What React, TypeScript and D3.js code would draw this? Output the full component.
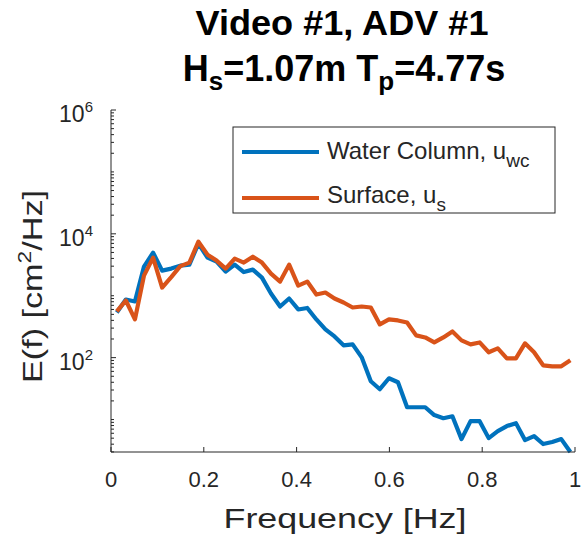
import React from "react";
import * as d3 from "d3";

const freq = [0.0125,0.032,0.0516,0.0711,0.0907,0.1102,0.1298,0.1493,0.1689,0.1884,0.208,0.2275,0.2471,0.2666,0.2862,0.3057,0.3253,0.3448,0.3644,0.3839,0.4035,0.423,0.4426,0.4621,0.4817,0.5012,0.5208,0.5403,0.5599,0.5794,0.599,0.6185,0.6381,0.6576,0.6772,0.6967,0.7163,0.7358,0.7554,0.7749,0.7945,0.814,0.8336,0.8531,0.8727,0.8922,0.9118,0.9313,0.9509,0.9704,0.99];

const waterColumn = [536,869,807,2951,4966,2545,2742,3063,3179,6930,4121,3555,2453,3179,2409,2642,1963,1085,670,901,600,634,414,286,220,158,164,101,41.5,30.9,46.4,40.0,15.8,15.8,15.8,11.8,10.5,11.3,4.83,9.42,9.42,5.01,6.5,7.83,8.75,4.66,5.41,4.02,4.33,4.83,2.99];

const surface = [557,837,414,2115,4121,1356,2000,3006,3427,7464,4605,3690,2742,3972,3427,4276,3427,2276,1694,3179,1459,1694,1045,1127,901,777,646,670,646,344,414,399,370,229,212,176,212,265,190,164,176,122,141,97.5,97.5,170,122,75.2,72.4,72.4,90.5];

const xTicks = [0, 0.2, 0.4, 0.6, 0.8, 1];
const xTickLabels = ["0", "0.2", "0.4", "0.6", "0.8", "1"];
const yTickExps = [2, 4, 6];

const seriesNames = ["Water Column, u", "Surface, u"];
const seriesSubs = ["wc", "s"];
const colors = ["#0072BD", "#D95319"];

const FONT = "'Liberation Sans', Arial, Helvetica, sans-serif";
const AX = "#262626";

export default function App() {
  const left = 111, right = 575, top = 110, bottom = 452;
  const yMin = d3.min(waterColumn) as number;
  const x = d3.scaleLinear().domain([0, 1]).range([left, right]);
  const y = d3.scaleLog().domain([yMin, 1e6]).range([bottom, top]);

  const data = [waterColumn, surface];
  const line = (vals: number[]) =>
    d3.line<number>().x((_, i) => x(freq[i])).y((d) => y(d))(vals) as string;

  const minor: number[] = [];
  for (let e = 0; e < 6; e++) {
    for (let m = 1; m <= 9; m++) {
      const v = m * Math.pow(10, e);
      if (v >= yMin && v <= 1e6 && !(m === 1 && e % 2 === 0)) minor.push(v);
    }
  }

  return (
    <svg width={582} height={541} style={{ position: "absolute", left: 0, top: 0, background: "#fff" }} fontFamily={FONT}>
      <rect x={0} y={0} width={582} height={541} fill="#fff" />
      {/* Title */}
      <text x={342} y={35} textAnchor="middle" fontSize={35} fontWeight="bold" fill="#000" textLength={293} lengthAdjust="spacingAndGlyphs">Video #1, ADV #1</text>
      <text x={344} y={81} textAnchor="middle" fontSize={36} fontWeight="bold" fill="#000">
        H<tspan dy={9} fontSize={26}>s</tspan><tspan dy={-9}>=1.07m T</tspan><tspan dy={9} fontSize={26}>p</tspan><tspan dy={-9}>=4.77s</tspan>
      </text>

      {/* lines */}
      <defs>
        <clipPath id="clip">
          <rect x={left} y={top - 3} width={right - left + 3} height={bottom - top + 6} />
        </clipPath>
      </defs>
      <g clipPath="url(#clip)">
        {data.map((vals, i) => (
          <path key={i} d={line(vals)} fill="none" stroke={colors[i]} strokeWidth={4.2} strokeLinejoin="round" />
        ))}
      </g>

      {/* axes */}
      <line x1={left} x2={right} y1={bottom} y2={bottom} stroke={AX} strokeWidth={1} />
      <line x1={left} x2={left} y1={top} y2={bottom} stroke={AX} strokeWidth={1} />
      {xTicks.map((t, i) => (
        <g key={i}>
          <line x1={x(t)} x2={x(t)} y1={bottom} y2={bottom - 5} stroke={AX} />
          <text x={x(t)} y={487} textAnchor="middle" fontSize={22} fill={AX}>{xTickLabels[i]}</text>
        </g>
      ))}
      {minor.map((v, i) => (
        <line key={i} x1={left} x2={left + 3} y1={y(v)} y2={y(v)} stroke={AX} />
      ))}
      {yTickExps.map((e) => (
        <g key={e}>
          <line x1={left} x2={left + 5} y1={y(Math.pow(10, e))} y2={y(Math.pow(10, e))} stroke={AX} />
          <text x={93} y={y(Math.pow(10, e)) + 12} textAnchor="end" fontSize={23} fill={AX}>
            10<tspan dy={-10} fontSize={15}>{e}</tspan>
          </text>
        </g>
      ))}

      {/* axis labels */}
      <text x={345} y={528} textAnchor="middle" fontSize={28} fill={AX} textLength={243} lengthAdjust="spacingAndGlyphs">Frequency [Hz]</text>
      <text transform="translate(42,286.5) rotate(-90)" textAnchor="middle" fontSize={27} fill={AX} textLength={193} lengthAdjust="spacingAndGlyphs">
        E(f) [cm<tspan dy={-11} fontSize={18}>2</tspan><tspan dy={11}>/Hz]</tspan>
      </text>

      {/* legend */}
      <rect x={233} y={127} width={322} height={86} fill="#fff" stroke={AX} strokeWidth={1} />
      {seriesNames.map((name, i) => (
        <g key={i}>
          <line x1={242} x2={319} y1={152 + i * 46} y2={152 + i * 46} stroke={colors[i]} strokeWidth={4} />
          <text x={327} y={159 + i * 44} fontSize={24} fill={AX}>
            {name}<tspan dy={8} fontSize={19}>{seriesSubs[i]}</tspan>
          </text>
        </g>
      ))}
    </svg>
  );
}
